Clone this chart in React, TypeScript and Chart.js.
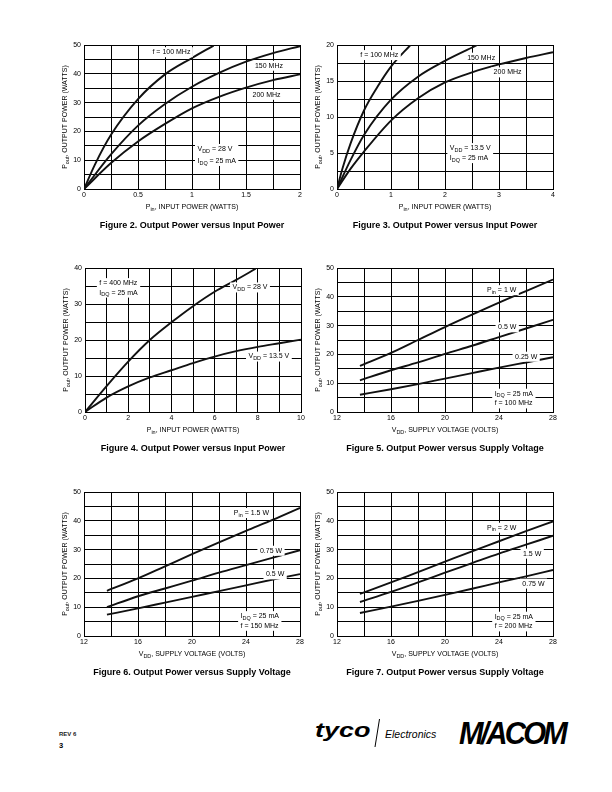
import React, { useEffect, useRef } from 'react';
import { Chart, registerables } from 'chart.js';

Chart.register(...registerables);

const NARROW = "'Liberation Sans Narrow', 'Arial Narrow', 'Liberation Sans', Arial, sans-serif";
const SANS = "'Liberation Sans', Arial, Helvetica, sans-serif";

// ---------- Figure 2 : Pout vs Pin, VDD = 28 V ----------
const fig2X100 = [0, 0.1, 0.25, 0.5, 0.75, 1.0, 1.2];
const fig2Y100 = [0, 8.4, 18.8, 31.2, 39.8, 45.5, 49.8];
const fig2X150 = [0, 0.25, 0.5, 0.75, 1.0, 1.25, 1.5, 1.75, 2.0];
const fig2Y150 = [0, 12.0, 22.0, 29.5, 35.5, 40.3, 44.2, 47.2, 49.6];
const fig2X200 = [0, 0.25, 0.5, 0.75, 1.0, 1.25, 1.5, 1.75, 2.0];
const fig2Y200 = [0, 9.0, 16.5, 22.6, 28.0, 32.0, 35.2, 37.8, 39.8];
const fig2XLabels = [0, 0.5, 1, 1.5, 2];
const fig2YLabels = [0, 10, 20, 30, 40, 50];

// ---------- Figure 3 : Pout vs Pin, VDD = 13.5 V ----------
const fig3X100 = [0, 0.1, 0.25, 0.5, 0.75, 1.0, 1.36];
const fig3Y100 = [0, 2.8, 6.3, 10.9, 14.2, 17.0, 20.0];
const fig3X150 = [0, 0.25, 0.5, 1.0, 1.5, 2.0, 2.6];
const fig3Y150 = [0, 4.0, 7.5, 12.4, 15.6, 17.8, 20.0];
const fig3X200 = [0, 0.25, 0.5, 1.0, 1.5, 2.0, 2.5, 3.0, 3.5, 4.0];
const fig3Y200 = [0, 2.8, 5.2, 9.5, 12.6, 14.8, 16.2, 17.3, 18.2, 19.0];
const fig3XLabels = [0, 1, 2, 3, 4];
const fig3YLabels = [0, 5, 10, 15, 20];

// ---------- Figure 4 : Pout vs Pin, f = 400 MHz ----------
const fig4X28 = [0, 1, 2, 3, 4, 5, 6, 7, 7.9];
const fig4Y28 = [0, 7.2, 14.0, 20.0, 24.9, 29.4, 33.4, 36.7, 39.8];
const fig4X135 = [0, 1, 2, 3, 4, 5, 6, 7, 8, 9, 10];
const fig4Y135 = [0, 4.0, 7.1, 9.6, 11.6, 13.6, 15.4, 16.9, 18.1, 19.1, 20.1];
const fig4XLabels = [0, 2, 4, 6, 8, 10];
const fig4YLabels = [0, 10, 20, 30, 40];

// ---------- Figures 5-7 : Pout vs VDD ----------
const vddX = [13.7, 16, 18, 20, 22, 24, 26, 28];
const fig5P1 = [16.0, 20.5, 25.0, 29.5, 33.8, 38.0, 42.0, 46.0];
const fig5P05 = [11.0, 14.5, 17.2, 20.2, 23.0, 26.0, 29.0, 32.0];
const fig5P025 = [6.0, 7.9, 9.7, 11.6, 13.5, 15.4, 17.2, 19.0];
const fig6P15 = [15.7, 20.0, 24.2, 28.4, 32.5, 36.5, 40.4, 44.5];
const fig6P075 = [10.0, 13.8, 16.5, 19.2, 22.0, 24.6, 27.2, 29.8];
const fig6P05 = [7.4, 9.6, 11.6, 13.6, 15.6, 17.6, 19.6, 21.5];
const fig7P2 = [14.6, 18.6, 22.2, 25.8, 29.4, 32.9, 36.4, 39.8];
const fig7P15 = [11.8, 15.3, 18.6, 22.0, 25.3, 28.6, 31.7, 34.8];
const fig7P075 = [8.0, 10.2, 12.2, 14.3, 16.4, 18.6, 20.7, 22.9];
const vddXLabels = [12, 16, 20, 24, 28];
const vddYLabels = [0, 10, 20, 30, 40, 50];

type Series = { x: number[]; y: number[] };
type Label = { x: number; y: number; lines: string[]; lh?: number };
type Spec = {
  left: number;
  top: number;
  xMin: number;
  xMax: number;
  xStep: number;
  xLabels: number[];
  yMax: number;
  yStep: number;
  yLabels: number[];
  xTitle: string;
  yTitle: string;
  series: Series[];
  labels: Label[];
  caption: string;
};

const PW = 216;
const PH = 144;
const PAD_L = 40;
const PAD_T = 10;
const PAD_R = 12;
const AX_H = 36;

const Y_TITLE = 'P_{out}, OUTPUT POWER (WATTS)';
const PIN_TITLE = 'P_{in}, INPUT POWER (WATTS)';
const VDD_TITLE = 'V_{DD}, SUPPLY VOLTAGE (VOLTS)';

const specs: Spec[] = [
  {
    left: 84, top: 45, xMin: 0, xMax: 2, xStep: 0.25, xLabels: fig2XLabels,
    yMax: 50, yStep: 5, yLabels: fig2YLabels, xTitle: PIN_TITLE, yTitle: Y_TITLE,
    series: [
      { x: fig2X100, y: fig2Y100 },
      { x: fig2X150, y: fig2Y150 },
      { x: fig2X200, y: fig2Y200 },
    ],
    labels: [
      { x: 0.634, y: 47.5, lines: ['f = 100 MHz'] },
      { x: 1.583, y: 42.8, lines: ['150 MHz'] },
      { x: 1.561, y: 32.7, lines: ['200 MHz'] },
      { x: 1.051, y: 13.9, lines: ['V_{DD} = 28 V', 'I_{DQ} = 25 mA'], lh: 12 },
    ],
    caption: 'Figure 2. Output Power versus Input Power',
  },
  {
    left: 337, top: 45, xMin: 0, xMax: 4, xStep: 0.5, xLabels: fig3XLabels,
    yMax: 20, yStep: 2.5, yLabels: fig3YLabels, xTitle: PIN_TITLE, yTitle: Y_TITLE,
    series: [
      { x: fig3X100, y: fig3Y100 },
      { x: fig3X150, y: fig3Y150 },
      { x: fig3X200, y: fig3Y200 },
    ],
    labels: [
      { x: 0.432, y: 18.6, lines: ['f = 100 MHz'] },
      { x: 2.41, y: 18.24, lines: ['150 MHz'] },
      { x: 2.9, y: 16.2, lines: ['200 MHz'] },
      { x: 2.09, y: 5.68, lines: ['V_{DD} = 13.5 V', 'I_{DQ} = 25 mA'], lh: 10 },
    ],
    caption: 'Figure 3. Output Power versus Input Power',
  },
  {
    left: 85, top: 268, xMin: 0, xMax: 10, xStep: 1, xLabels: fig4XLabels,
    yMax: 40, yStep: 5, yLabels: fig4YLabels, xTitle: PIN_TITLE, yTitle: Y_TITLE,
    series: [
      { x: fig4X28, y: fig4Y28 },
      { x: fig4X135, y: fig4Y135 },
    ],
    labels: [
      { x: 0.665, y: 35.8, lines: ['f = 400 MHz', 'I_{DQ} = 25 mA'], lh: 9.5 },
      { x: 6.83, y: 34.6, lines: ['V_{DD} = 28 V'] },
      { x: 7.57, y: 15.4, lines: ['V_{DD} = 13.5 V'] },
    ],
    caption: 'Figure 4. Output Power versus Input Power',
  },
  {
    left: 337, top: 268, xMin: 12, xMax: 28, xStep: 2, xLabels: vddXLabels,
    yMax: 50, yStep: 5, yLabels: vddYLabels, xTitle: VDD_TITLE, yTitle: Y_TITLE,
    series: [
      { x: vddX, y: fig5P1 },
      { x: vddX, y: fig5P05 },
      { x: vddX, y: fig5P025 },
    ],
    labels: [
      { x: 23.11, y: 42.3, lines: ['P_{in} = 1 W'] },
      { x: 23.93, y: 29.4, lines: ['0.5 W'] },
      { x: 25.19, y: 19.2, lines: ['0.25 W'] },
      { x: 23.68, y: 6.35, lines: ['I_{DQ} = 25 mA', 'f = 100 MHz'], lh: 9.7 },
    ],
    caption: 'Figure 5. Output Power versus Supply Voltage',
  },
  {
    left: 84, top: 492, xMin: 12, xMax: 28, xStep: 2, xLabels: vddXLabels,
    yMax: 50, yStep: 5, yLabels: vddYLabels, xTitle: VDD_TITLE, yTitle: Y_TITLE,
    series: [
      { x: vddX, y: fig6P15 },
      { x: vddX, y: fig6P075 },
      { x: vddX, y: fig6P05 },
    ],
    labels: [
      { x: 23.1, y: 42.7, lines: ['P_{in} = 1.5 W'] },
      { x: 25.03, y: 29.6, lines: ['0.75 W'] },
      { x: 25.48, y: 21.4, lines: ['0.5 W'] },
      { x: 23.6, y: 6.9, lines: ['I_{DQ} = 25 mA', 'f = 150 MHz'], lh: 9.7 },
    ],
    caption: 'Figure 6. Output Power versus Supply Voltage',
  },
  {
    left: 337, top: 492, xMin: 12, xMax: 28, xStep: 2, xLabels: vddXLabels,
    yMax: 50, yStep: 5, yLabels: vddYLabels, xTitle: VDD_TITLE, yTitle: Y_TITLE,
    series: [
      { x: vddX, y: fig7P2 },
      { x: vddX, y: fig7P15 },
      { x: vddX, y: fig7P075 },
    ],
    labels: [
      { x: 23.11, y: 37.6, lines: ['P_{in} = 2 W'] },
      { x: 25.78, y: 28.6, lines: ['1.5 W'] },
      { x: 25.73, y: 18.2, lines: ['0.75 W'] },
      { x: 23.68, y: 6.7, lines: ['I_{DQ} = 25 mA', 'f = 200 MHz'], lh: 9.7 },
    ],
    caption: 'Figure 7. Output Power versus Supply Voltage',
  },
];

type Part = { t: string; sub: boolean };
function parseRich(s: string): Part[] {
  const parts: Part[] = [];
  const re = /_\{([^}]*)\}/g;
  let last = 0;
  let m: RegExpExecArray | null;
  while ((m = re.exec(s)) !== null) {
    if (m.index > last) parts.push({ t: s.slice(last, m.index), sub: false });
    parts.push({ t: m[1], sub: true });
    last = m.index + m[0].length;
  }
  if (last < s.length) parts.push({ t: s.slice(last), sub: false });
  return parts;
}

function richWidth(ctx: CanvasRenderingContext2D, s: string, size: number) {
  let w = 0;
  for (const p of parseRich(s)) {
    ctx.font = `${p.sub ? size * 0.78 : size}px ${NARROW}`;
    w += ctx.measureText(p.t).width;
  }
  return w;
}

function drawRich(
  ctx: CanvasRenderingContext2D,
  s: string,
  x: number,
  y: number,
  size: number,
  align: 'left' | 'center'
) {
  const w = richWidth(ctx, s, size);
  let cx = align === 'left' ? x : x - w / 2;
  ctx.fillStyle = '#000';
  ctx.textBaseline = 'middle';
  ctx.textAlign = 'left';
  for (const p of parseRich(s)) {
    ctx.font = `${p.sub ? size * 0.78 : size}px ${NARROW}`;
    ctx.fillText(p.t, cx, y + (p.sub ? size * 0.32 : 0));
    cx += ctx.measureText(p.t).width;
  }
}

function makePlugin(spec: Spec) {
  return {
    id: 'richText',
    afterDraw(chart: any) {
      const ctx: CanvasRenderingContext2D = chart.ctx;
      const xs = chart.scales.x;
      const ys = chart.scales.y;
      const a = chart.chartArea;
      ctx.save();
      for (const lab of spec.labels) {
        const px = xs.getPixelForValue(lab.x);
        const py = ys.getPixelForValue(lab.y);
        const lh = lab.lh ?? 10;
        const w = Math.max(...lab.lines.map((l) => richWidth(ctx, l, 7)));
        ctx.fillStyle = '#fff';
        ctx.fillRect(px - 2.5, py - 5, w + 5, lh * (lab.lines.length - 1) + 10);
        lab.lines.forEach((l, i) => drawRich(ctx, l, px, py + i * lh, 7, 'left'));
      }
      drawRich(ctx, spec.xTitle, (a.left + a.right) / 2, a.bottom + 18, 7, 'center');
      ctx.translate(a.left - 19, (a.top + a.bottom) / 2);
      ctx.rotate(-Math.PI / 2);
      drawRich(ctx, spec.yTitle, 0, 0, 7, 'center');
      ctx.restore();
    },
  };
}

function fmt(v: number) {
  return String(Math.round(v * 100) / 100);
}

function Plot({ spec }: { spec: Spec }) {
  const ref = useRef<HTMLCanvasElement>(null);
  const W = PW + PAD_L + PAD_R;
  const H = PH + PAD_T + AX_H;
  useEffect(() => {
    const tickFont = { family: NARROW, size: 7 };
    const chart = new Chart(ref.current as HTMLCanvasElement, {
      type: 'line',
      data: {
        datasets: spec.series.map((s) => ({
          data: s.x.map((x, i) => ({ x, y: s.y[i] })),
          borderColor: '#111',
          borderWidth: 1.9,
          pointRadius: 0,
          fill: false,
          cubicInterpolationMode: 'monotone' as const,
        })),
      },
      options: {
        responsive: false,
        animation: false,
        devicePixelRatio: 1,
        layout: { padding: { top: PAD_T, right: PAD_R, left: 0, bottom: 0 } },
        plugins: { legend: { display: false }, tooltip: { enabled: false } },
        scales: {
          x: {
            type: 'linear',
            min: spec.xMin,
            max: spec.xMax,
            afterFit: (s: any) => {
              s.height = AX_H;
            },
            ticks: {
              stepSize: spec.xStep,
              autoSkip: false,
              maxRotation: 0,
              font: tickFont,
              color: '#000',
              padding: 2,
              callback: (v: any) =>
                spec.xLabels.some((l) => Math.abs(l - Number(v)) < 1e-6) ? fmt(Number(v)) : '',
            },
            grid: { color: '#000', lineWidth: 1, drawTicks: false },
            border: { color: '#000', width: 1 },
          },
          y: {
            type: 'linear',
            min: 0,
            max: spec.yMax,
            afterFit: (s: any) => {
              s.width = PAD_L;
            },
            ticks: {
              stepSize: spec.yStep,
              autoSkip: false,
              font: tickFont,
              color: '#000',
              padding: 3,
              callback: (v: any) =>
                spec.yLabels.some((l) => Math.abs(l - Number(v)) < 1e-6) ? fmt(Number(v)) : '',
            },
            grid: { color: '#000', lineWidth: 1, drawTicks: false },
            border: { color: '#000', width: 1 },
          },
        },
      } as any,
      plugins: [makePlugin(spec) as any],
    });
    return () => chart.destroy();
  }, [spec]);
  return (
    <>
      <canvas
        ref={ref}
        width={W}
        height={H}
        style={{ position: 'absolute', left: spec.left - PAD_L, top: spec.top - PAD_T, width: W, height: H }}
      />
      <div
        style={{
          position: 'absolute',
          left: spec.left - 30,
          width: PW + 60,
          top: spec.top + PH + 30,
          textAlign: 'center',
          font: `bold 9px ${SANS}`,
          lineHeight: '12px',
          color: '#000',
          whiteSpace: 'nowrap',
        }}
      >
        {spec.caption}
      </div>
    </>
  );
}

export default function App() {
  return (
    <div style={{ position: 'absolute', left: 0, top: 0, width: 612, height: 792, background: '#fff', overflow: 'hidden' }}>
      {specs.map((s, i) => (
        <Plot key={i} spec={s} />
      ))}
      <div style={{ position: 'absolute', left: 59, top: 731, font: `bold 6px ${SANS}`, color: '#222' }}>REV 6</div>
      <div style={{ position: 'absolute', left: 59, top: 741, font: `bold 7.5px ${SANS}`, color: '#000' }}>3</div>
      <div
        style={{
          position: 'absolute',
          left: 315,
          top: 719,
          font: `italic 900 20px ${SANS}`,
          letterSpacing: '0px',
          color: '#000',
          lineHeight: '22px',
          transform: 'scaleX(1.35)',
          transformOrigin: 'left top',
        }}
      >
        tyco
      </div>
      <svg style={{ position: 'absolute', left: 370, top: 716, width: 14, height: 36 }}>
        <line x1="9.5" y1="3" x2="5" y2="31" stroke="#000" strokeWidth="1" />
      </svg>
      <div
        style={{
          position: 'absolute',
          left: 385,
          top: 728,
          font: `italic 10.5px ${SANS}`,
          color: '#000',
          lineHeight: '12px',
        }}
      >
        Electronics
      </div>
      <div
        style={{
          position: 'absolute',
          left: 459,
          top: 715,
          font: `italic 900 32px ${SANS}`,
          letterSpacing: '-3px',
          color: '#000',
          lineHeight: '36px',
          transform: 'scaleX(0.92)',
          transformOrigin: 'left top',
        }}
      >
        M/ACOM
      </div>
    </div>
  );
}
